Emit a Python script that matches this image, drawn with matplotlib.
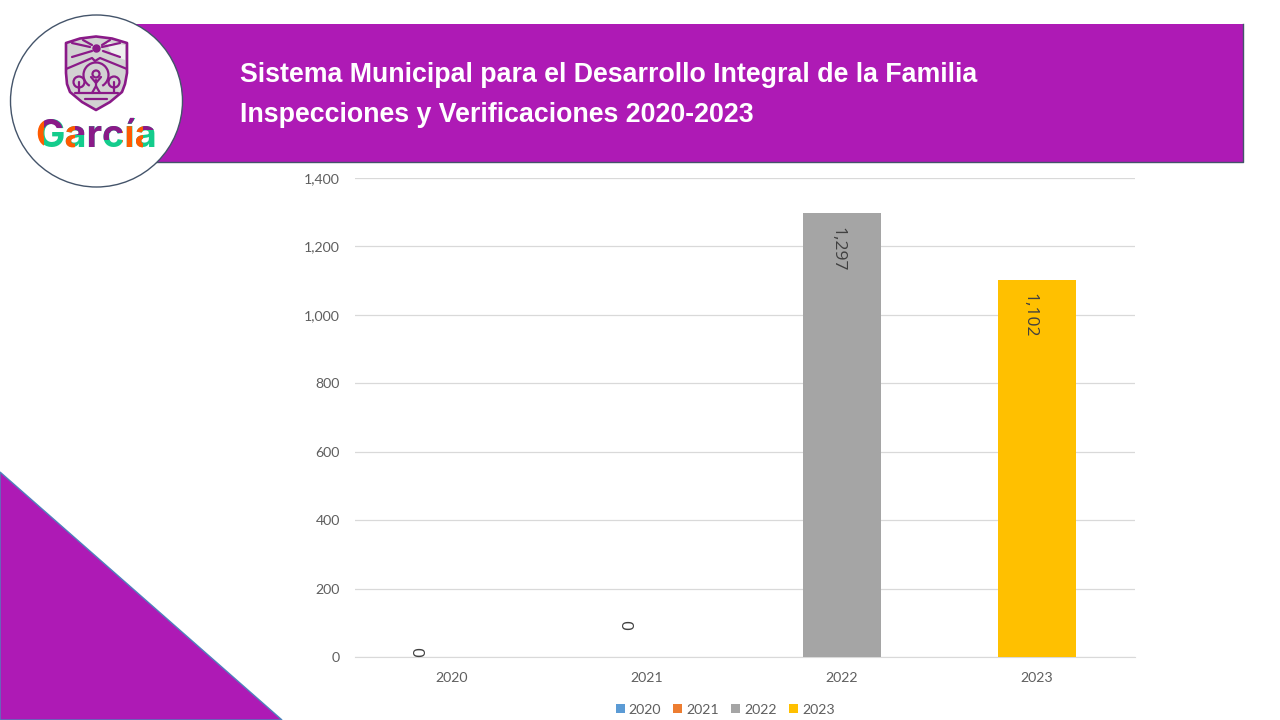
import matplotlib
matplotlib.use("Agg")
import matplotlib.pyplot as plt
from matplotlib.patches import Polygon, Circle, Rectangle, PathPatch, Arc
from matplotlib.textpath import TextPath
from matplotlib.font_manager import FontProperties
from matplotlib.transforms import Affine2D
from matplotlib.ticker import FuncFormatter

categories = ["2020", "2021", "2022", "2023"]
values = [0, 0, 1297, 1102]
colors = ["#5B9BD5", "#ED7D31", "#A5A5A5", "#FFC000"]
y_ticks = [0, 200, 400, 600, 800, 1000, 1200, 1400]
title_lines = ["Sistema Municipal para el Desarrollo Integral de la Familia",
               "Inspecciones y Verificaciones 2020-2023"]
label_y_offsets = [5, 32, -36, -35]
label_x_offsets = [-37, -23, -5, -8]

PURPLE = "#AE1AB5"
EDGE = "#44546A"
LOGO = "#8A1A88"
W, H = 1280, 720
fig = plt.figure(figsize=(12.8, 7.2), dpi=100, facecolor="white")

# chart
ax = fig.add_axes([354.5/W, 1-657/H, 780/W, 479/H])
positions = range(len(categories))
for i, (c, v, col) in enumerate(zip(categories, values, colors)):
    ax.bar(i, v, width=0.4, color=col, label=c, zorder=3)
    ax.annotate(f"{v:,}", (i, v), xytext=(label_x_offsets[i]*0.72, label_y_offsets[i]*0.72),
                textcoords="offset points", rotation=-90, ha="center", va="center",
                fontsize=12.6, family="Open Sans", color="#404040", zorder=4)
ax.set_xlim(-0.5, 3.5)
ax.set_ylim(0, 1400)
ax.set_xticks(list(positions), categories)
ax.set_yticks(y_ticks)
ax.yaxis.set_major_formatter(FuncFormatter(lambda v, _: f"{int(v):,}"))
ax.grid(axis="y", color="#D9D9D9", lw=0.9, zorder=0)
ax.set_axisbelow(True)
for s in ["top", "right", "left"]:
    ax.spines[s].set_visible(False)
ax.spines["bottom"].set_color("#D9D9D9")
ax.tick_params(length=0, labelsize=10.2, labelcolor="#5F5F5F", labelfontfamily="Lato")
ax.tick_params(axis="x", pad=10.6)
ax.tick_params(axis="y", pad=10.5)
ax.legend(loc="lower center", bbox_to_anchor=(0.4752, -0.1225), ncol=4, frameon=False,
          prop=dict(family="Lato", size=10.2), labelcolor="#5F5F5F", handlelength=0.63, handleheight=0.63,
          handletextpad=0.3, columnspacing=0.85, borderpad=0, borderaxespad=0)

# decoration layer in pixel coordinates
ov = fig.add_axes([0, 0, 1, 1], zorder=5)
ov.set_xlim(0, W); ov.set_ylim(H, 0); ov.axis("off"); ov.patch.set_alpha(0)
ov.add_patch(Rectangle((130, 24), 1112.5, 138, facecolor=PURPLE, edgecolor="none", zorder=1))
ov.plot([150, 1242.5, 1242.5], [162, 162, 24], color=EDGE, lw=1, zorder=1.1)
ov.add_patch(Polygon([(0, 472), (282, 720), (0, 720)], facecolor=PURPLE, edgecolor="#4F81BD", lw=1))
ov.add_patch(Circle((96.5, 101), 86, facecolor="white", edgecolor=EDGE, lw=1, zorder=1.2))
for line, y in zip(title_lines, [75, 115]):
    ov.text(240, y, line, color="white", fontsize=19.25, fontweight="bold", family="Liberation Sans",
            va="center", ha="left")

# shield
shield = [(66, 43), (80, 38.5), (96, 36.5), (112, 38.5), (127, 43), (127, 73), (125, 84), (122, 92), (110, 102),
          (96, 110), (82, 102), (70, 92), (67, 84), (66, 73)]
ov.add_patch(Polygon(shield, facecolor="#D2D2D2", edgecolor=LOGO, lw=1.9, joinstyle="round", zorder=2))
ov.add_patch(Polygon([(106, 42), (125, 45), (125, 60), (112, 55)], facecolor="#F0F0F0", edgecolor="none", zorder=2.1))
ov.add_patch(Circle((96.5, 48.5), 3.5, color=LOGO, zorder=3))
for seg in [[(72, 43), (90, 47)], [(72, 57), (92, 51)], [(83, 40), (92, 45)], [(120, 43), (102, 47)],
            [(120, 57), (103, 51)], [(110, 40), (102, 45)],
            [(66, 69), (92, 58), (95, 61), (100, 58), (127, 69)],
            [(96, 80), (96, 86), (92, 93)], [(96, 86), (100, 93)], [(91, 77), (96, 83), (101, 77)],
            [(79, 82), (79, 93)], [(114, 82), (114, 93)], [(75, 93), (118, 93)], [(85, 99), (107, 99)]]:
    ov.plot(*zip(*seg), color=LOGO, lw=1.6, solid_capstyle="round", zorder=3)
ov.add_patch(Arc((96, 75), 25, 25, theta1=120, theta2=60, color=LOGO, lw=1.6, zorder=3))
for c, r in [((96, 74), 3.5), ((79, 82), 5.5), ((114, 82), 5.5)]:
    ov.add_patch(Circle(c, r, facecolor="none", edgecolor=LOGO, lw=1.6, zorder=3))

# wordmark
fp = FontProperties(family="Inter", weight="bold")
wx, wy, ws = 36, 147, 38
ov.text(wx, wy, "García", fontproperties=fp, fontsize=ws*0.72, color="#14CC8C", va="baseline", ha="left", zorder=3)
tp = TextPath((0, 0), "García", size=ws, prop=fp)
tp = tp.transformed(Affine2D().scale(1, -1).translate(wx, wy))
clip = PathPatch(tp, facecolor="none", edgecolor="none", transform=ov.transData, zorder=0)
ov.add_patch(clip)
regions = [
    ((35, 118, 9, 30), "#FF5A00"), ((44, 118, 20, 10), LOGO),
    ((64, 122, 11, 27), "#FF5A00"), ((75, 122, 10, 13), LOGO),
    ((86, 122, 13, 27), LOGO), ((99, 122, 10, 18), LOGO), ((109, 122, 13, 11), LOGO),
    ((122, 126, 10, 23), "#FF5A00"), ((120, 112, 14, 12), LOGO),
    ((133, 124, 10, 25), "#FF5A00"), ((143, 122, 14, 8), LOGO),
]
for (x, y, w, h), col in regions:
    r = Rectangle((x, y), w, h, facecolor=col, edgecolor="none", zorder=4)
    ov.add_patch(r)
    r.set_clip_path(clip)

fig.savefig("out.png", dpi=100)
